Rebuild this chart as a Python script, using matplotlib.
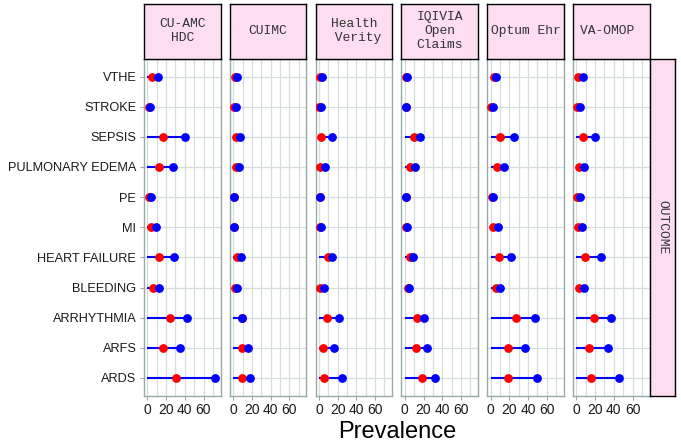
"""Dumbbell prevalence chart, one panel per data source."""

import matplotlib
matplotlib.use("Agg")
import matplotlib.pyplot as plt
from matplotlib.ticker import MultipleLocator

# outcomes, top to bottom
outcomes = ["VTHE", "STROKE", "SEPSIS", "PULMONARY EDEMA", "PE", "MI",
            "HEART FAILURE", "BLEEDING", "ARRHYTHMIA", "ARFS", "ARDS"]

sources = ["CU-AMC\nHDC", "CUIMC", "Health\n Verity", "IQIVIA\nOpen\nClaims",
           "Optum Ehr", "VA-OMOP "]

# red points (lower prevalence), same order as outcomes
red_cu_amc = [4.5, 1.5, 16.8, 12.2, 1.6, 3.4, 12.6, 5.9, 24.3, 16.2, 30.3]
red_cuimc = [1.6, 0.5, 3.4, 2.7, 0.5, 0.3, 4.0, 1.6, 9.5, 9.4, 9.4]
red_health_verity = [0.5, 0.3, 2.6, 0.9, 0.5, 0.5, 9.7, 0.9, 8.6, 4.4, 5.5]
red_iqivia = [1.5, 0.8, 9.5, 5.2, 0.8, 1.2, 5.2, 3.1, 13.1, 12.3, 18.4]
red_optum = [3.2, 0.7, 9.6, 6.8, 1.0, 2.5, 9.3, 5.3, 26.6, 18.1, 19.1]
red_va_omop = [2.1, 0.7, 6.7, 3.2, 0.7, 1.4, 8.8, 2.8, 18.4, 13.5, 15.2]

# blue points (higher prevalence)
blue_cu_amc = [10.8, 3.0, 39.9, 27.4, 4.0, 8.7, 28.5, 12.6, 42.0, 34.6, 72.5]
blue_cuimc = [4.0, 2.7, 7.3, 5.9, 1.2, 0.5, 8.7, 3.7, 9.8, 15.4, 18.3]
blue_health_verity = [3.0, 2.2, 14.3, 6.2, 1.2, 1.9, 14.3, 5.5, 21.4, 15.7, 25.0]
blue_iqivia = [2.8, 1.7, 16.6, 10.5, 1.7, 2.4, 8.8, 4.6, 20.5, 23.7, 31.8]
blue_optum = [6.0, 2.5, 25.5, 13.8, 2.5, 7.8, 22.0, 10.3, 47.2, 37.2, 49.7]
blue_va_omop = [7.4, 3.5, 20.2, 8.2, 3.9, 6.0, 25.8, 8.2, 37.2, 34.0, 45.7]

red_all = [red_cu_amc, red_cuimc, red_health_verity, red_iqivia, red_optum, red_va_omop]
blue_all = [blue_cu_amc, blue_cuimc, blue_health_verity, blue_iqivia, blue_optum, blue_va_omop]

x_ticks = [0, 20, 40, 60]

W, H = 681, 445
STRIP_FILL = "#FCDDF2"
GRID = "#D5DEDD"
BORDER = "#97A9A8"
MONO = ["Liberation Mono", "DejaVu Sans Mono"]
SANS = ["Liberation Sans", "DejaVu Sans"]


def rect(x0, y0, x1, y1):
    """Pixel box (top-left origin) -> figure fraction rect."""
    return [x0 / W, 1 - y1 / H, (x1 - x0) / W, (y1 - y0) / H]


def strip_box(fig, box):
    ax = fig.add_axes(box)
    ax.set_facecolor(STRIP_FILL)
    ax.set_xticks([])
    ax.set_yticks([])
    for s in ax.spines.values():
        s.set_color("black")
        s.set_linewidth(1.0)
    return ax


fig = plt.figure(figsize=(W / 100, H / 100), dpi=100)
plt.rcParams["font.family"] = SANS

panel_top, panel_bot = 58.5, 396
left0, step, width = 144, 85.8, 76.5
ypos = list(range(len(outcomes) - 1, -1, -1))

for i, name in enumerate(sources):
    x0 = left0 + i * step
    ax = fig.add_axes(rect(x0, panel_top, x0 + width, panel_bot))
    ax.set_xlim(-3.7, 78.2)
    ax.set_ylim(-0.6, len(outcomes) - 0.4)

    ax.xaxis.set_major_locator(MultipleLocator(20))
    ax.xaxis.set_minor_locator(MultipleLocator(10))
    ax.set_xticks(x_ticks)
    ax.grid(True, which="both", axis="x", color=GRID, lw=0.9, zorder=0)
    ax.grid(True, which="major", axis="y", color=GRID, lw=0.9, zorder=0)
    ax.set_axisbelow(True)
    ax.tick_params(axis="x", which="minor", length=0)
    ax.tick_params(axis="x", which="major", length=3, width=0.8, color=BORDER,
                   labelsize=10, pad=2, labelcolor="#1a1a1a")

    ax.set_yticks(ypos)
    if i == 0:
        ax.set_yticklabels(outcomes)
        ax.tick_params(axis="y", length=3, width=0.8, color=BORDER,
                       labelsize=9.2, pad=2.5, labelcolor="#1a1a1a")
    else:
        ax.tick_params(axis="y", length=0, labelleft=False)

    for s in ax.spines.values():
        s.set_color(BORDER)
        s.set_linewidth(1.0)

    ax.hlines(ypos, 0, blue_all[i], color="blue", lw=1.5, zorder=2)
    ax.scatter(red_all[i], ypos, s=40, color="red", linewidths=0, zorder=3)
    ax.scatter(blue_all[i], ypos, s=40, color="blue", linewidths=0, zorder=4)

    sax = strip_box(fig, rect(x0, 4, x0 + width, panel_top))
    sax.text(0.5, 0.5, name, ha="center", va="center", family=MONO,
             fontsize=9.4, color="#333333", linespacing=1.25,
             transform=sax.transAxes)

rax = strip_box(fig, rect(650, 59, 675, panel_bot))
rax.text(0.5, 0.5, "OUTCOME", ha="center", va="center", rotation=-90,
         family=MONO, fontsize=9.4, color="#333333", transform=rax.transAxes)

fig.text((left0 + 5 * step + width + left0) / 2 / W, 1 - 432 / H, "Prevalence",
         ha="center", va="center", fontsize=17, color="black")

fig.savefig("out.png", dpi=100)
